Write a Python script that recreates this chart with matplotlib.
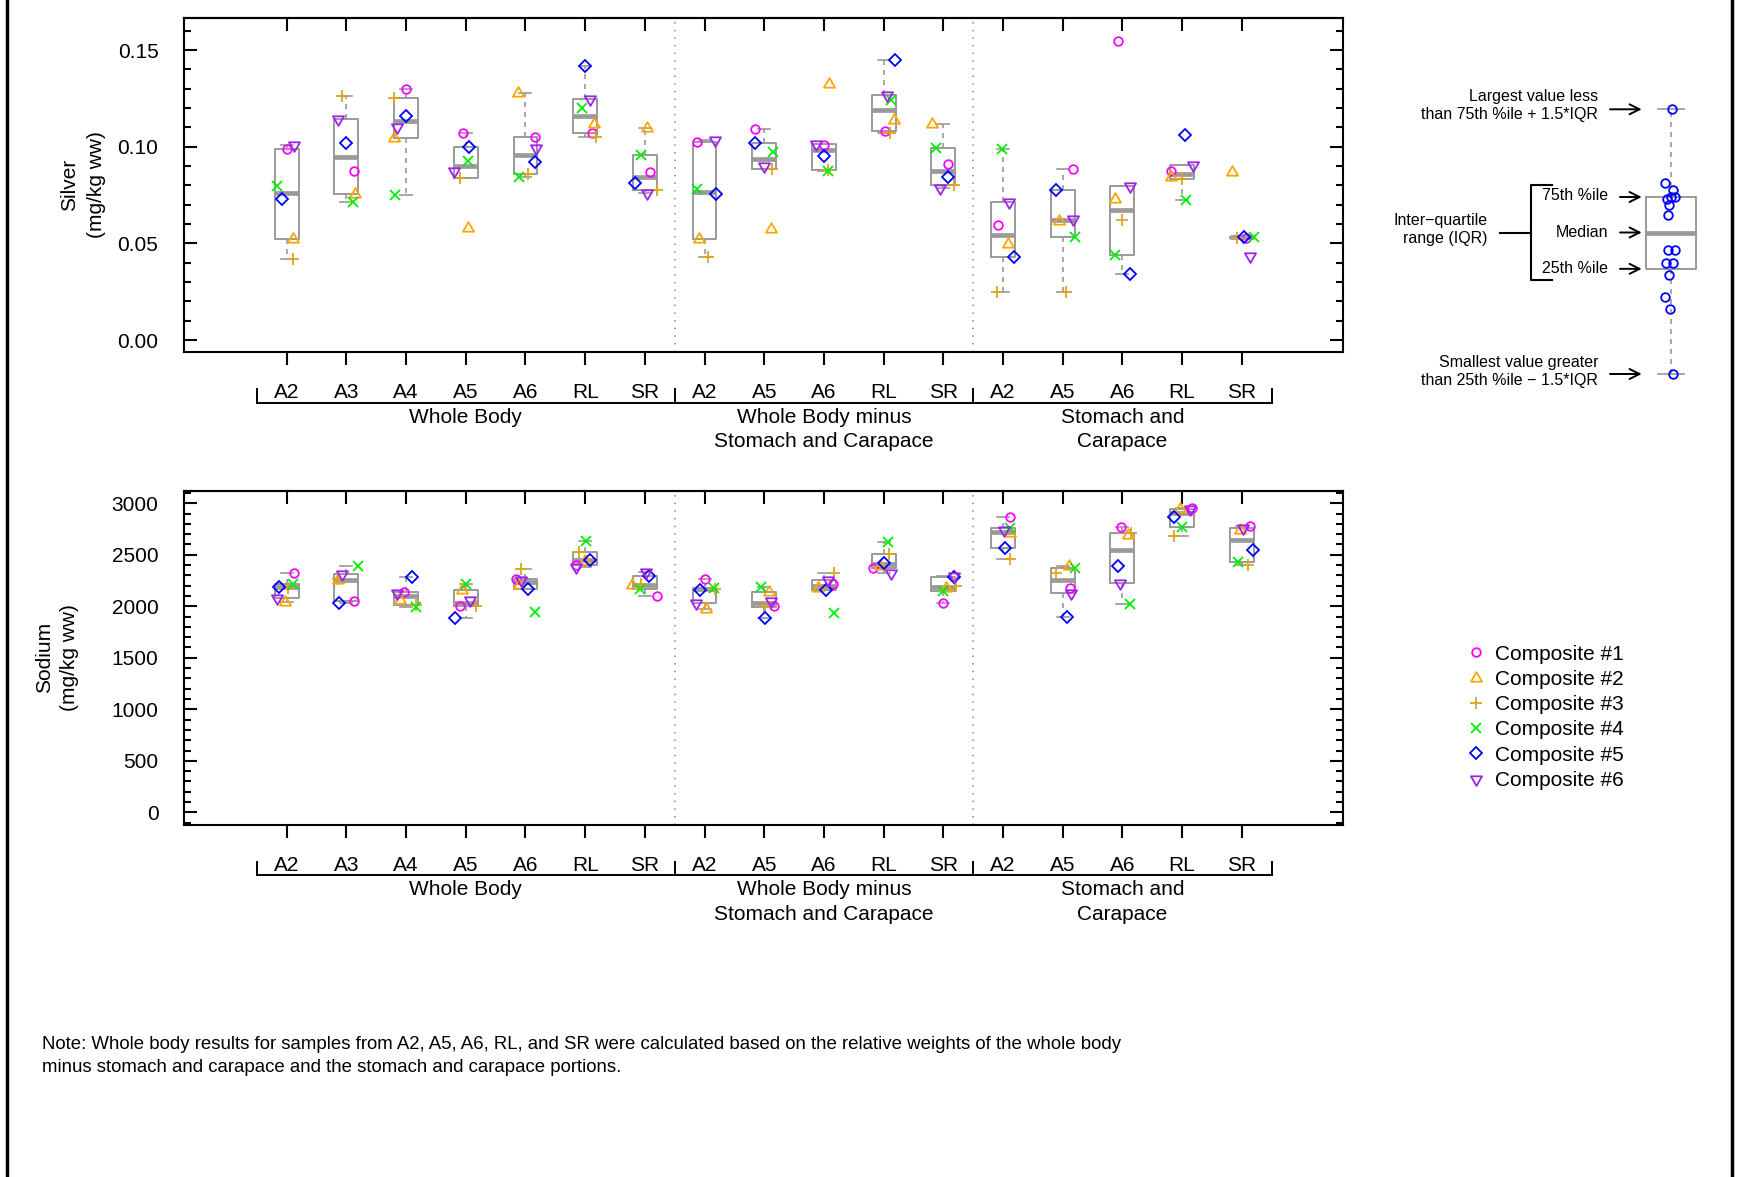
import numpy as np
import matplotlib
matplotlib.use("Agg")
import matplotlib.pyplot as plt
from matplotlib.lines import Line2D
from matplotlib.path import Path
from matplotlib.ticker import MultipleLocator, FormatStrFormatter

plt.rcParams['font.family'] = ['Liberation Sans', 'DejaVu Sans']
plt.rcParams['lines.scale_dashes'] = False

# ---------------- data ----------------
categories = ["A2", "A3", "A4", "A5", "A6", "RL", "SR",
              "A2", "A5", "A6", "RL", "SR",
              "A2", "A5", "A6", "RL", "SR"]
group_names = [["Whole Body"],
               ["Whole Body minus", "Stomach and Carapace"],
               ["Stomach and", "Carapace"]]
group_sizes = [7, 5, 5]
composites = ["Composite #1", "Composite #2", "Composite #3",
              "Composite #4", "Composite #5", "Composite #6"]

# Silver (mg/kg ww), one list per composite, one value per category
ag_c1 = [0.0988, 0.0874, 0.1300, 0.1071, 0.1052, 0.1069, 0.0871,
         0.1025, 0.1091, 0.1009, 0.1081, 0.0909,
         0.0595, 0.0883, 0.1548, 0.0874, 0.0530]
ag_c2 = [0.0521, 0.0755, 0.1047, 0.0579, 0.1276, 0.1117, 0.1095,
         0.0522, 0.0576, 0.1326, 0.1138, 0.1116,
         0.0495, 0.0616, 0.0729, 0.0841, 0.0867]
ag_c3 = [0.0419, 0.1260, 0.1250, 0.0840, 0.0860, 0.1052, 0.0778,
         0.0429, 0.0884, 0.0879, 0.1072, 0.0803,
         0.0247, 0.0247, 0.0619, 0.0831, 0.0527]
ag_c4 = [0.0797, 0.0716, 0.0750, 0.0928, 0.0843, 0.1198, 0.0955,
         0.0779, 0.0971, 0.0876, 0.1241, 0.0993,
         0.0990, 0.0533, 0.0440, 0.0725, 0.0531]
ag_c5 = [0.0729, 0.1019, 0.1159, 0.1000, 0.0919, 0.1419, 0.0812,
         0.0753, 0.1021, 0.0952, 0.1450, 0.0841,
         0.0431, 0.0776, 0.0341, 0.1060, 0.0534]
ag_c6 = [0.1007, 0.1143, 0.1103, 0.0876, 0.0995, 0.1245, 0.0759,
         0.1036, 0.0900, 0.1016, 0.1267, 0.0788,
         0.0712, 0.0628, 0.0798, 0.0905, 0.0434]

# Sodium (mg/kg ww)
na_c1 = [2320, 2048, 2142, 2006, 2262, 2401, 2097,
         2268, 2000, 2217, 2369, 2029,
         2870, 2181, 2767, 2955, 2783]
na_c2 = [2042, 2255, 2061, 2158, 2207, 2440, 2204,
         1977, 2142, 2175, 2391, 2175,
         2709, 2391, 2692, 2940, 2741]
na_c3 = [2175, 2265, 2013, 2003, 2359, 2531, 2217,
         2171, 1997, 2327, 2508, 2197,
         2459, 2327, 2709, 2685, 2401]
na_c4 = [2217, 2388, 1997, 2213, 1948, 2637, 2168,
         2178, 2188, 1938, 2628, 2149,
         2757, 2375, 2019, 2770, 2427]
na_c5 = [2191, 2029, 2285, 1890, 2168, 2450, 2294,
         2158, 1890, 2158, 2424, 2281,
         2569, 1900, 2391, 2870, 2547]
na_c6 = [2084, 2314, 2133, 2061, 2255, 2378, 2336,
         2029, 2055, 2255, 2327, 2294,
         2741, 2126, 2230, 2945, 2757]

# horizontal jitter of the points (category units)
ag_j1 = [0.01, 0.13, 0.00, -0.04, 0.16, 0.12, 0.08, -0.12, -0.16, 0.00, 0.02, 0.07, -0.09, 0.18, -0.07, -0.18, 0.07]
ag_j2 = [0.11, 0.15, -0.20, 0.04, -0.12, 0.14, 0.04, -0.09, 0.12, 0.08, 0.18, -0.19, 0.08, -0.07, -0.13, -0.18, -0.17]
ag_j3 = [0.11, -0.07, -0.20, -0.10, 0.04, 0.18, 0.20, 0.06, 0.13, 0.07, 0.11, 0.18, -0.10, 0.06, 0.00, 0.00, -0.08]
ag_j4 = [-0.17, 0.11, -0.18, 0.04, -0.10, -0.05, -0.06, -0.12, 0.15, 0.07, 0.12, -0.12, -0.02, 0.20, -0.12, 0.06, 0.20]
ag_j5 = [-0.07, 0.00, 0.00, 0.05, 0.16, 0.00, -0.17, 0.20, -0.16, 0.00, 0.19, 0.07, 0.19, -0.11, 0.12, 0.04, 0.04]
ag_j6 = [0.12, -0.14, -0.15, -0.20, 0.17, 0.08, 0.03, 0.17, 0.00, -0.14, 0.05, -0.06, 0.10, 0.18, 0.12, 0.18, 0.13]

na_j1 = [0.12, 0.13, -0.03, -0.10, -0.16, -0.16, 0.20, 0.01, 0.17, 0.16, -0.17, -0.01, 0.11, 0.13, -0.03, 0.17, 0.13]
na_j2 = [-0.02, -0.14, -0.11, -0.07, -0.10, 0.00, -0.21, 0.03, 0.08, -0.10, -0.06, 0.04, 0.12, 0.11, 0.09, -0.03, -0.03]
na_j3 = [0.03, -0.14, 0.16, 0.17, -0.08, -0.11, -0.06, 0.18, 0.01, 0.17, 0.09, 0.21, 0.12, -0.12, 0.15, -0.13, 0.10]
na_j4 = [0.11, 0.20, 0.17, 0.00, 0.16, 0.01, -0.08, 0.16, -0.06, 0.17, 0.08, -0.01, 0.11, 0.20, 0.13, 0.00, -0.07]
na_j5 = [-0.13, -0.12, 0.10, -0.18, 0.04, 0.08, 0.07, -0.07, 0.01, 0.04, 0.00, 0.18, 0.04, 0.07, -0.07, -0.14, 0.18]
na_j6 = [-0.16, -0.07, -0.15, 0.07, -0.07, -0.16, 0.02, -0.15, 0.11, 0.07, 0.12, 0.18, 0.01, 0.14, -0.04, 0.14, 0.02]

# illustrative points of the explanatory box (key), screen units
key_values = [109.3, 182.7, 190.0, 197.3, 199.0, 196.7, 205.0, 215.0,
              250.0, 250.0, 262.7, 262.7, 275.0, 296.7, 309.0, 374.0]
key_jitter = [0.7, -6.0, 1.7, 4.0, -4.3, 0.0, -2.0, -2.7,
              -2.7, 4.0, -5.0, 2.3, -1.7, -6.0, -1.0, 2.3]

# ---------------- styles ----------------
tri_up = Path([(0, 1), (-0.866, -0.5), (0.866, -0.5), (0, 1)], closed=True)
tri_dn = Path([(0, -1), (-0.866, 0.5), (0.866, 0.5), (0, -1)], closed=True)
styles = [
    dict(marker='o', ms=6.2, color='#FF00FF'),
    dict(marker=tri_up, ms=9.2, color='#FFA500'),
    dict(marker='+', ms=8.4, color='#DAA520'),
    dict(marker='x', ms=6.6, color='#00EE00'),
    dict(marker='D', ms=6.0, color='#0000FF'),
    dict(marker=tri_dn, ms=9.2, color='#A020F0'),
]
MEW = 1.3
BOXC = '#9A9A9A'
box_kw = dict(boxprops=dict(color=BOXC, lw=1.4),
              medianprops=dict(color=BOXC, lw=3.4, solid_capstyle='butt'),
              whiskerprops=dict(color=BOXC, lw=1.2, linestyle=(0, (3.6, 3.6))),
              capprops=dict(color=BOXC, lw=1.2))

FIG_W, FIG_H = 1737, 1177
FS = 15


def tukey_stats(vals):
    v = np.sort(np.asarray(vals, dtype=float))
    n = len(v)
    n4 = np.floor((n + 3) / 2) / 2
    lo = 0.5 * (v[int(np.floor(n4)) - 1] + v[int(np.ceil(n4)) - 1])
    hi_i = n + 1 - n4
    hi = 0.5 * (v[int(np.floor(hi_i)) - 1] + v[int(np.ceil(hi_i)) - 1])
    iqr = hi - lo
    inside = v[(v >= lo - 1.5 * iqr) & (v <= hi + 1.5 * iqr)]
    return dict(med=np.median(v), q1=lo, q3=hi,
                whislo=inside.min(), whishi=inside.max(), fliers=[])


def rect(l, t, r, b):
    return [l / FIG_W, 1 - b / FIG_H, (r - l) / FIG_W, (b - t) / FIG_H]


fig = plt.figure(figsize=(FIG_W / 100, FIG_H / 100), dpi=100)
ax_ag = fig.add_axes(rect(184, 18.3, 1343.3, 352.4))
ax_na = fig.add_axes(rect(184, 490.9, 1343.3, 824.7))


def draw_panel(ax, comps, jits, ylim, major, minor, fmt):
    pos = np.arange(len(categories))
    by_cat = np.array(comps, dtype=float).T
    stats = [tukey_stats(d) for d in by_cat]
    ax.bxp(stats, positions=pos, widths=0.4, capwidths=0.2,
           showfliers=False, manage_ticks=False, **box_kw)
    for k in range(len(comps)):
        st = styles[k]
        ax.plot(pos + np.array(jits[k]), comps[k], linestyle='none',
                marker=st['marker'], ms=st['ms'], mec=st['color'],
                mfc='none', mew=MEW, zorder=5)
    bounds = np.cumsum(group_sizes)[:-1] - 0.5
    for b in bounds:
        ax.axvline(b, color='#888888', lw=1.2, linestyle=(0, (1, 4.5)), zorder=0)
    ax.set_xlim(-1.72, len(categories) + 0.7)
    ax.set_ylim(*ylim)
    ax.yaxis.set_major_locator(MultipleLocator(major))
    ax.yaxis.set_minor_locator(MultipleLocator(minor))
    ax.yaxis.set_major_formatter(FormatStrFormatter(fmt))
    ax.tick_params(axis='y', which='major', direction='in', length=9.6,
                   width=1.5, pad=18.4, labelsize=FS, left=True, right=True)
    ax.tick_params(axis='y', which='minor', direction='in', length=4.8,
                   width=1.5, left=True, right=True)
    ax.set_xticks(pos)
    ax.tick_params(axis='x', direction='out', length=9.6, width=1.5,
                   labelbottom=False, top=False)
    sec = ax.secondary_xaxis('top')
    sec.set_xticks(pos)
    sec.tick_params(direction='in', length=9.6, width=1.5, labeltop=False)
    sec.spines['top'].set_linewidth(1.5)
    for s in ax.spines.values():
        s.set_linewidth(1.5)

    h_px = ax.get_position().height * FIG_H
    xt = ax.get_xaxis_transform()

    def off(px):
        return -px / h_px

    for i, c in enumerate(categories):
        ax.text(i, off(45.9), c, transform=xt, ha='center', va='baseline',
                fontsize=FS, clip_on=False)
    edges = np.concatenate([[-0.5], np.cumsum(group_sizes) - 0.5])
    ax.plot([edges[0], edges[-1]], [off(50.3)] * 2, transform=xt, color='k',
            lw=1.4, clip_on=False, solid_capstyle='projecting')
    for e in edges:
        ax.plot([e, e], [off(37.0), off(50.3)], transform=xt, color='k',
                lw=1.4, clip_on=False)
    starts = np.concatenate([[0], np.cumsum(group_sizes)[:-1]])
    for st, sz, lines in zip(starts, group_sizes, group_names):
        cx = st + (sz - 1) / 2
        for li, line in enumerate(lines):
            ax.text(cx, off(70.5 + 24.4 * li), line, transform=xt,
                    ha='center', va='baseline', fontsize=FS, clip_on=False)


draw_panel(ax_ag, [ag_c1, ag_c2, ag_c3, ag_c4, ag_c5, ag_c6],
           [ag_j1, ag_j2, ag_j3, ag_j4, ag_j5, ag_j6],
           (-0.0064, 0.1664), 0.05, 0.01, '%.2f')
draw_panel(ax_na, [na_c1, na_c2, na_c3, na_c4, na_c5, na_c6],
           [na_j1, na_j2, na_j3, na_j4, na_j5, na_j6],
           (-120, 3120), 500, 100, '%d')

# y-axis labels
for x, y, s in [(70, 185, "Silver"), (96.7, 185, "(mg/kg ww)"),
                (44.3, 657.8, "Sodium"), (69.8, 657.8, "(mg/kg ww)")]:
    fig.text(x / FIG_W, 1 - y / FIG_H, s, rotation=90, ha='center',
             va='center', fontsize=FS)

# legend
handles = [Line2D([], [], linestyle='none', marker=st['marker'], ms=st['ms'],
                  mec=st['color'], mfc='none', mew=MEW) for st in styles]
fig.legend(handles, composites, loc='center left',
           bbox_to_anchor=((1476 - 10.4) / FIG_W, 1 - 717.3 / FIG_H),
           frameon=False, fontsize=FS, handlelength=1.0, handletextpad=0.41,
           labelspacing=0.30, borderpad=0, borderaxespad=0)

# overlay in screen units for the explanatory key and the frame
ov = fig.add_axes([0, 0, 1, 1], facecolor='none')
ov.set_xlim(0, FIG_W)
ov.set_ylim(FIG_H, 0)
ov.axis('off')

kc = 1671
kst = tukey_stats(key_values)
ov.bxp([kst], positions=[kc], widths=50, capwidths=26.7, showfliers=False,
       manage_ticks=False, **box_kw)
ov.plot(kc + np.array(key_jitter), key_values, linestyle='none', marker='o',
        ms=6.2, mec='#0000FF', mfc='none', mew=MEW, zorder=5)

KFS = 11.5
arrow_kw = dict(arrowstyle='->', lw=1.4, color='black', mutation_scale=18,
                shrinkA=0, shrinkB=0)
for y, x0 in [(kst['whislo'], 1610), (kst['q1'], 1620), (kst['med'], 1620),
              (kst['q3'], 1620), (kst['whishi'], 1610)]:
    ov.annotate('', xy=(1641.7, y), xytext=(x0, y), arrowprops=arrow_kw)

for x, y, s in [(1598.3, 96.7, "Largest value less"),
                (1598.3, 115.0, "than 75th %ile + 1.5*IQR"),
                (1608.3, 196.0, "75th %ile"),
                (1608.3, 232.7, "Median"),
                (1608.3, 268.3, "25th %ile"),
                (1487.3, 220.0, "Inter\u2212quartile"),
                (1487.3, 238.3, "range (IQR)"),
                (1598.3, 362.3, "Smallest value greater"),
                (1598.3, 380.0, "than 25th %ile \u2212 1.5*IQR")]:
    ov.text(x, y, s, ha='right', va='center', fontsize=KFS)

ov.plot([1551.7, 1531, 1531, 1551.7], [185, 185, 280, 280], color='k', lw=1.5)
ov.plot([1500, 1531], [233.3, 233.3], color='k', lw=1.5)

# note
note_lines = ["Note: Whole body results for samples from A2, A5, A6, RL, and SR were calculated based on the relative weights of the whole body",
              "minus stomach and carapace and the stomach and carapace portions."]
for i, line in enumerate(note_lines):
    ov.text(41.7, 1049.2 + 23.0 * i, line, ha='left', va='baseline', fontsize=13.4)

# outer frame (vertical edges)
ov.plot([7, 7], [0, FIG_H], color='k', lw=2.5)
ov.plot([1732, 1732], [0, FIG_H], color='k', lw=2.5)

fig.savefig("out.png", dpi=100)
